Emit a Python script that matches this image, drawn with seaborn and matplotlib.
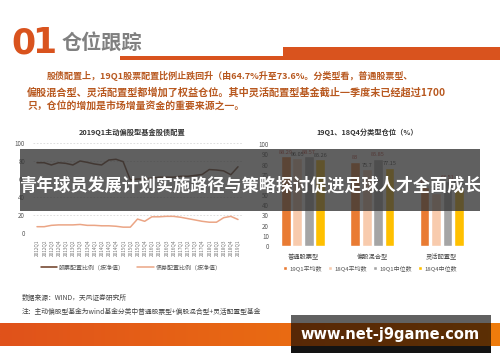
import numpy as np
import pandas as pd
import matplotlib
matplotlib.use("Agg")
import matplotlib.pyplot as plt
import seaborn as sns
from matplotlib.patches import Rectangle
from matplotlib.lines import Line2D

# ---- data ----
quarters = [f"{y}Q{q}" for y in range(2012, 2019) for q in range(1, 5)] + ["2019Q1"]
stock_ratio = [78.1, 78.1, 75.6, 78.1, 77.4, 75.6, 80.0, 78.5, 76.7, 75.6, 81.1, 81.9, 79.3,
               59.0, 60.0, 60.0, 61.0, 62.0, 62.0, 62.0, 63.0, 63.0, 64.0, 65.0, 70.5,
               70.0, 69.0, 64.7, 73.6]
bond_ratio = [7.0, 7.0, 8.5, 9.0, 9.0, 9.0, 9.5, 8.5, 8.5, 8.0, 8.0, 7.5, 6.5,
              6.5, 15.5, 13.0, 18.0, 18.0, 18.5, 18.5, 17.5, 16.0, 14.5, 13.0, 12.0,
              12.0, 17.0, 18.5, 15.0]

fund_types = ["普通股票型", "偏股混合型", "灵活配置型"]
series_names = ["19Q1平均数", "18Q4平均数", "19Q1中位数", "18Q4中位数"]
avg_19q1 = [88.29, 83, 58.2]
avg_18q4 = [86.05, 75.7, 52.4]
med_19q1 = [88.57, 85.85, 63.51]
med_18q4 = [85.26, 77.15, 57.3]

W, H = 500, 362
CJK = ["Noto Sans CJK SC", "DejaVu Sans"]

sns.set_theme(style="white")
plt.rcParams["font.family"] = CJK


def rect(x0, y0, x1, y1):
    return [x0 / W, 1 - y1 / H, (x1 - x0) / W, (y1 - y0) / H]


def ftxt(x, y, s, **kw):
    fig.text(x / W, 1 - y / H, s, **kw)


def fbox(x0, y0, x1, y1, **kw):
    fig.patches.append(Rectangle((x0 / W, 1 - y1 / H), (x1 - x0) / W, (y1 - y0) / H,
                                 transform=fig.transFigure, **kw))


fig = plt.figure(figsize=(W / 100, H / 100), dpi=100)
fig.patch.set_facecolor("white")

# ---- header ----
orange = "#D9531E"
ftxt(11, 43, "0", fontsize=25, fontweight="heavy", color=orange, va="center", family="DejaVu Sans")
ftxt(32, 43, "1", fontsize=25, fontweight="heavy", color=orange, va="center", family="DejaVu Sans")
ftxt(62, 42, "仓位跟踪", fontsize=14.5, fontweight="bold", color="#808080", va="center")
fbox(120, 56, 283, 60, color=orange, lw=0)
fbox(283, 47, 500, 60, color=orange, lw=0)

para_col = "#B8581F"
ftxt(47, 76, "股债配置上，19Q1股票配置比例止跌回升（由64.7%升至73.6%。分类型看，普通股票型、",
     fontsize=6.5, fontweight="bold", color=para_col, va="center")
ftxt(27, 92, "偏股混合型、灵活配置型都增加了权益仓位。其中灵活配置型基金截止一季度末已经超过1700",
     fontsize=7.3, fontweight="bold", color=para_col, va="center")
ftxt(27, 107, "只，仓位的增加是市场增量资金的重要来源之一。",
     fontsize=7.1, fontweight="bold", color=para_col, va="center")

# ---- left chart: line ----
ax1 = fig.add_axes(rect(33.4, 143, 241.6, 233))
xs = np.arange(len(quarters))
sns.lineplot(x=xs, y=stock_ratio, ax=ax1, color="#6B3A22", lw=1.1)
sns.lineplot(x=xs, y=bond_ratio, ax=ax1, color="#EBA585", lw=1.1)
ax1.set_xlim(-0.5, len(quarters) - 0.5)
ax1.set_ylim(0, 100)
ax1.set_yticks(range(0, 101, 20))
ax1.set_xticks(xs)
ax1.set_xticklabels(quarters, rotation=90, fontsize=3.4, color="#777777")
ax1.tick_params(axis="y", labelsize=4.5, colors="#555555", length=0, pad=6)
ax1.tick_params(axis="x", length=0, pad=5)
ax1.grid(axis="y", ls=(0, (2, 2)), color="#D9D9D9", lw=0.6)
for s in ax1.spines.values():
    s.set_visible(False)
ax1.axhline(0, color="#D9D9D9", lw=0.6)
ax1.set_xlabel("")
ax1.set_ylabel("")
ftxt(132, 132, "2019Q1主动偏股型基金股债配置", fontsize=5.2, fontweight="bold", color="#333333",
     ha="center", va="center")
h1 = [Line2D([], [], color="#6B3A22", lw=1.1), Line2D([], [], color="#EBA585", lw=1.1)]
ax1.legend(h1, ["股票配置比例（按净值）", "债券配置比例（按净值）"], ncol=2, frameon=False,
           fontsize=4.3, loc="center", bbox_to_anchor=(131 / W, 1 - 267 / H),
           bbox_transform=fig.transFigure, handlelength=2.8, handletextpad=0.3,
           columnspacing=2.0, labelcolor="#555555")

# ---- right chart: bars ----
bars = pd.DataFrame({
    "type": fund_types * 4,
    "series": np.repeat(series_names, 3),
    "value": avg_19q1 + avg_18q4 + med_19q1 + med_18q4,
})
ax2 = fig.add_axes(rect(271.7, 144.3, 480, 246))
bar_cols = ["#E97B33", "#F8CBAD", "#A5A5A5", "#FFC000"]
sns.barplot(data=bars, x="type", y="value", hue="series", palette=bar_cols, ax=ax2,
            width=0.66, gap=0.15, saturation=1, legend=True)
ax2.set_xlim(-0.45, 2.55)
ax2.set_ylim(0, 100)
ax2.set_yticks(range(0, 101, 10))
ax2.tick_params(axis="y", labelsize=4.5, colors="#555555", length=0, pad=2)
ax2.tick_params(axis="x", labelsize=4.5, colors="#444444", length=0, pad=5)
for s in ax2.spines.values():
    s.set_visible(False)
ax2.axhline(0, color="#BFBFBF", lw=0.6)
ax2.set_xlabel("")
ax2.set_ylabel("")
label_cols = ["#C0392B", "#333333", "#C0392B", "#333333"]
for cont, col in zip(ax2.containers, label_cols):
    ax2.bar_label(cont, labels=[f"{v:g}" for v in cont.datavalues], fontsize=4,
                  color=col, padding=1)
sns.move_legend(ax2, "center", bbox_to_anchor=(370 / W, 1 - 268 / H),
                bbox_transform=fig.transFigure, ncol=4, frameon=False, fontsize=4.3,
                title=None, handlelength=0.7, handleheight=0.7, handletextpad=0.4,
                columnspacing=1.0, labelcolor="#555555")
ftxt(367, 132, "19Q1、18Q4分类型仓位（%）", fontsize=5.2, fontweight="bold", color="#333333",
     ha="center", va="center")

# ---- footer ----
ftxt(22, 298, "数据来源：WIND，天风证券研究所", fontsize=4.9, color="#444444", va="center")
ftxt(22, 312, "注：主动偏股型基金为wind基金分类中普通股票型+偏股混合型+灵活配置型基金",
     fontsize=4.9, color="#444444", va="center")

grad = np.linspace(0, 1, 256).reshape(1, -1)
axg = fig.add_axes(rect(0, 323, 500, 346))
axg.imshow(grad, aspect="auto", extent=(0, 1, 0, 1),
           cmap=matplotlib.colors.LinearSegmentedColormap.from_list("band", ["#E0521B", "#F07D0C"]))
axg.set_axis_off()

# ---- overlays ----
fbox(20, 149, 480, 211, color=(0.22, 0.22, 0.22), alpha=0.8, lw=0, zorder=10)
ftxt(250, 186, "青年球员发展计划实施路径与策略探讨促进足球人才全面成长", fontsize=12.3,
     fontweight="bold", color="white", ha="center", va="center", zorder=11)

fbox(291, 315, 491, 353, color="black", alpha=0.62, lw=0, zorder=10)
fbox(291, 346, 491, 353, color="black", alpha=0.8, lw=0, zorder=10)
ftxt(390, 335, "www.net-j9game.com", fontsize=10.5, fontweight="bold", color="white",
     ha="center", va="center", family="DejaVu Sans", zorder=11)

fig.savefig("out.png", dpi=100)
